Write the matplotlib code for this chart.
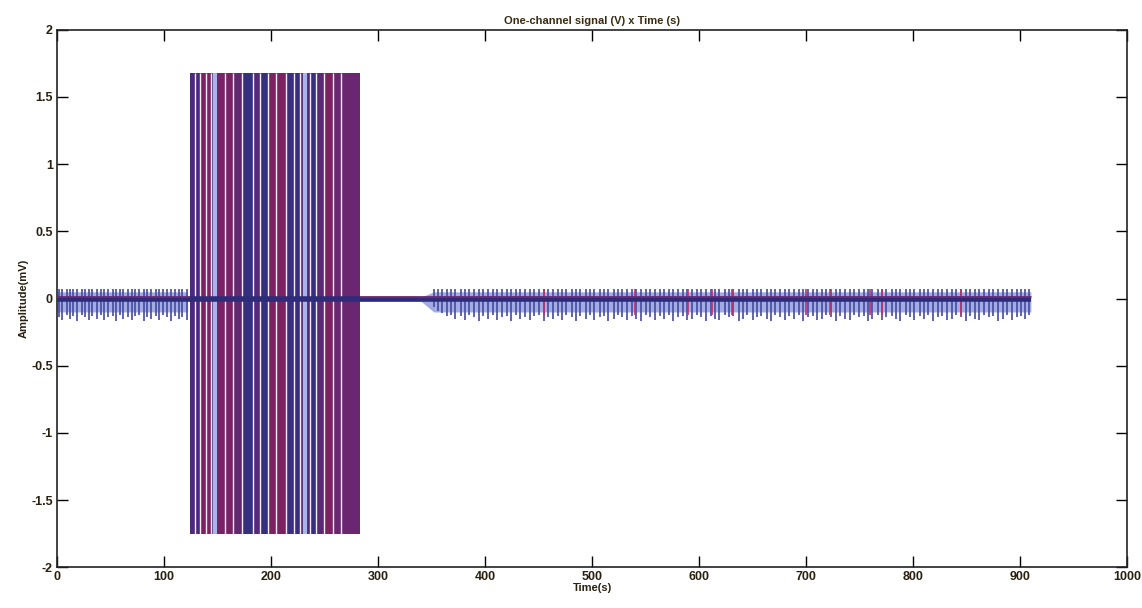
import numpy as np
import matplotlib.pyplot as plt

# block of saturated activity (s, mV)
block_t = [124, 283]
block_y = [-1.75, 1.68]
stripe_start = [124, 134, 144, 150, 164, 173, 183, 190, 197, 214, 227, 236, 242, 249, 258]
stripe_end = [134, 144, 150, 164, 173, 183, 190, 197, 214, 227, 236, 242, 249, 258, 283]
stripe_col = ['#4b2a7d', '#7d2163', '#4b2a7d', '#7a2266', '#62296f', '#34307e', '#55297a',
              '#34307e', '#7d2163', '#3a2e7e', '#55297a', '#34307e', '#5a2877', '#7d2163', '#6a2670']
gap_white = [129, 134, 139, 144, 157, 164, 173, 183, 190, 197, 205, 214, 221, 227, 236, 242,
             249, 258, 265]
gap_blue = [148, 232]

# noisy segments: envelope breakpoints
env_t = [0, 122, 122, 283, 283, 340, 352, 500, 700, 910]
env_hi = [0.05, 0.05, 0.01, 0.01, 0.01, 0.01, 0.05, 0.05, 0.05, 0.05]
env_lo = [-0.10, -0.10, -0.02, -0.02, -0.02, -0.02, -0.10, -0.10, -0.10, -0.10]

# spikes
spk_a_t = [2, 5, 9, 12, 15, 19, 23, 26, 30, 33, 37, 41, 44, 48, 52, 55, 59, 62, 66, 70,
           73, 77, 81, 84, 88, 92, 95, 99, 103, 106, 110, 114, 117, 121]
spk_a_lo = [-0.14, -0.16, -0.12, -0.15, -0.13, -0.17, -0.12, -0.14, -0.16, -0.13, -0.15, -0.12,
            -0.16, -0.14, -0.13, -0.17, -0.12, -0.15, -0.14, -0.16, -0.13, -0.12, -0.17, -0.14,
            -0.15, -0.13, -0.16, -0.12, -0.14, -0.17, -0.13, -0.15, -0.14, -0.16]
spk_b_t = [352, 356, 360, 364, 368, 372, 377, 381, 385, 390, 394, 398, 403, 407, 411, 416,
           420, 424, 429, 433, 437, 442, 446, 450, 455, 459, 463, 468, 472, 476, 481, 485,
           489, 494, 498, 502, 507, 511, 515, 520, 524, 528, 533, 537, 541, 546, 550, 554,
           559, 563, 567, 572, 576, 580, 585, 589, 593, 598, 602, 606, 611, 615, 619, 624,
           628, 632, 637, 641, 645, 650, 654, 658, 663, 667, 671, 676, 680, 684, 689, 693,
           697, 702, 706, 710, 715, 719, 723, 728, 732, 736, 741, 745, 749, 754, 758, 762,
           767, 771, 775, 780, 784, 788, 793, 797, 801, 806, 810, 814, 819, 823, 827, 832,
           836, 840, 845, 849, 853, 858, 862, 866, 871, 875, 879, 884, 888, 892, 897, 901,
           905, 908]
spk_b_lo = [-0.06, -0.09, -0.11, -0.13, -0.12, -0.15, -0.13, -0.16, -0.12, -0.14, -0.17, -0.13,
            -0.15, -0.12, -0.16, -0.14, -0.13, -0.17, -0.12, -0.15, -0.14, -0.16, -0.13, -0.12,
            -0.17, -0.14, -0.15, -0.13, -0.16, -0.12, -0.14, -0.17, -0.13, -0.15, -0.12, -0.16,
            -0.14, -0.13, -0.17, -0.15, -0.12, -0.14, -0.16, -0.13, -0.15, -0.17, -0.12, -0.14,
            -0.16, -0.13, -0.15, -0.12, -0.17, -0.14, -0.13, -0.16, -0.15, -0.12, -0.14, -0.17,
            -0.13, -0.15, -0.16, -0.12, -0.14, -0.13, -0.17, -0.15, -0.12, -0.16, -0.14, -0.13,
            -0.15, -0.17, -0.12, -0.14, -0.16, -0.13, -0.15, -0.12, -0.17, -0.14, -0.13, -0.16,
            -0.15, -0.12, -0.14, -0.17, -0.13, -0.15, -0.16, -0.12, -0.14, -0.13, -0.17, -0.15,
            -0.12, -0.16, -0.14, -0.13, -0.15, -0.17, -0.12, -0.14, -0.16, -0.13, -0.15, -0.12,
            -0.17, -0.14, -0.13, -0.16, -0.15, -0.12, -0.14, -0.17, -0.13, -0.15, -0.16, -0.12,
            -0.14, -0.13, -0.17, -0.15, -0.12, -0.16, -0.14, -0.13, -0.15, -0.12]
red_t = [455, 540, 590, 612, 631, 700, 722, 760, 771, 845]

xticks = [0, 100, 200, 300, 400, 500, 600, 700, 800, 900, 1000]
yticks = [-2, -1.5, -1, -0.5, 0, 0.5, 1, 1.5, 2]

plt.rcParams['font.family'] = ['Liberation Sans', 'DejaVu Sans']
fig = plt.figure(figsize=(11.42, 6.08), dpi=100)
ax = fig.add_axes([0.05, 0.067, 0.937, 0.884])

# noise envelope
ax.fill_between(env_t, env_lo, env_hi, color='#a3abe4', lw=0, zorder=1)
# spikes
ax.vlines(spk_a_t, spk_a_lo, 0.07, color='#454c9e', lw=1.2, zorder=2)
ax.vlines(spk_b_t, spk_b_lo, 0.07, color='#454c9e', lw=1.2, zorder=2)
ax.vlines(red_t, -0.12, 0.07, color='#c2306e', lw=1.2, zorder=3)
# center band
ax.plot([0, 910], [0, 0], color='#2e2c78', lw=4, solid_capstyle='butt', zorder=4)
ax.plot([0, 910], [0.01, 0.01], color='#8a2a78', lw=1.2, alpha=0.7, zorder=4)

# saturated block as stripes
for s, e, c in zip(stripe_start, stripe_end, stripe_col):
    ax.bar(s, block_y[1] - block_y[0], bottom=block_y[0], width=e - s, align='edge',
           color=c, lw=0, zorder=5)
ax.vlines(gap_white, block_y[0], block_y[1], color='#f4eefa', lw=1.0, zorder=6)
ax.vlines(gap_blue, block_y[0], block_y[1], color='#a8b4ea', lw=3, zorder=6)
ax.plot(block_t, [0, 0], color='#2e2c78', lw=4, solid_capstyle='butt', zorder=7)

ax.set_xlim(0, 1000)
ax.set_ylim(-2, 2)
ax.set_xticks(xticks)
ax.set_yticks(yticks)
ax.set_yticklabels(['-2', '-1.5', '-1', '-0.5', '0', '0.5', '1', '1.5', '2'])
ax.tick_params(direction='in', length=8, width=1, top=True, right=True,
               labelsize=9, labelcolor='#2a2010', pad=3)
for lab in ax.get_xticklabels() + ax.get_yticklabels():
    lab.set_fontweight('bold')
for sp in ax.spines.values():
    sp.set_linewidth(1.2)
    sp.set_color('#222222')

ax.set_title('One-channel signal (V) x Time (s)', fontsize=8, fontweight='bold',
             color='#3a2a10', pad=4)
ax.set_xlabel('Time(s)', fontsize=8, fontweight='bold', color='#2a2010', labelpad=0)
ax.set_ylabel('Amplitude(mV)', fontsize=8, fontweight='bold', color='#2a2010', labelpad=2)

fig.savefig('out.png', dpi=100)
